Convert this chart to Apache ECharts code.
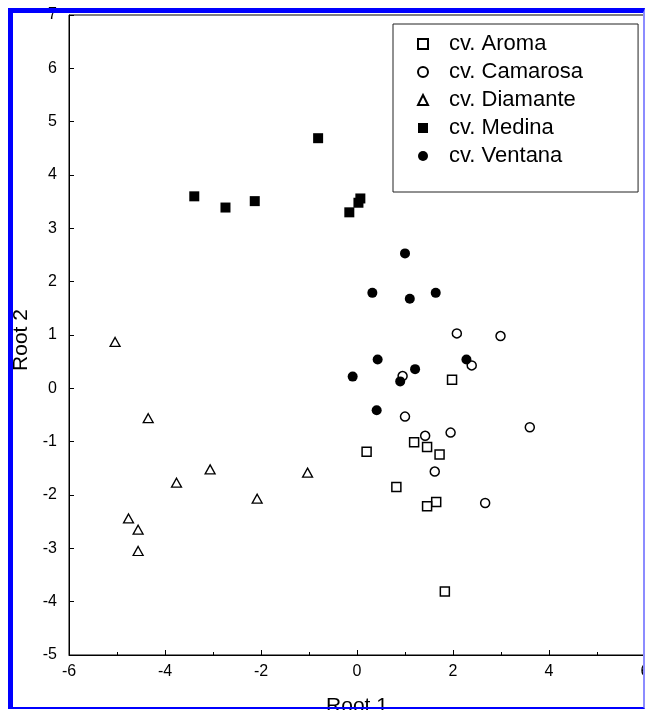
<!DOCTYPE html>
<html>
<head>
<meta charset="utf-8">
<script src="https://cdn.jsdelivr.net/npm/echarts@6/dist/echarts.min.js"></script>
<style>
html, body { margin: 0; padding: 0; background: #fff; }
#wrap { position: relative; width: 645px; height: 710px; overflow: hidden; }
#main { position: absolute; left: 0; top: 0; width: 645px; height: 710px; }
#frame {
    position: absolute; left: 8px; top: 8px; width: 637px; height: 701px;
    box-sizing: border-box; pointer-events: none;
    border-top: 5px solid #0000ff; border-left: 5px solid #0000ff;
    border-right: 2px solid #8c8cff; border-bottom: 2px solid #0000ff;
}
</style>
</head>
<body>
<div id="wrap">
    <div id="main"></div>
    <div id="frame"></div>
</div>
<script>
"use strict";

// [Root 1, Root 2]
var aroma = [[1.98, 0.16], [0.20, -1.19], [1.19, -1.01], [1.46, -1.10], [1.72, -1.24],
    [0.82, -1.85], [1.65, -2.13], [1.46, -2.21], [1.83, -3.81]];
var camarosa = [[2.08, 1.03], [2.99, 0.98], [2.39, 0.43], [0.95, 0.23], [1.00, -0.53],
    [3.60, -0.73], [1.42, -0.89], [1.95, -0.83], [1.62, -1.56], [2.67, -2.15]];
var diamante = [[-5.04, 0.87], [-4.35, -0.56], [-3.76, -1.77], [-3.06, -1.52], [-2.08, -2.07],
    [-1.03, -1.58], [-4.76, -2.44], [-4.56, -2.65], [-4.56, -3.05]];
var medina = [[-3.39, 3.60], [-2.74, 3.39], [-2.13, 3.51], [-0.81, 4.69], [-0.16, 3.30],
    [0.03, 3.48], [0.07, 3.56]];
var ventana = [[1.00, 2.53], [0.32, 1.79], [1.10, 1.68], [1.64, 1.79], [0.43, 0.54],
    [1.21, 0.36], [-0.09, 0.22], [0.90, 0.13], [2.28, 0.54], [0.41, -0.41]];

var seriesNames = ["cv. Aroma", "cv. Camarosa", "cv. Diamante", "cv. Medina", "cv. Ventana"];
var xRange = [-6, 6];
var yRange = [-5, 7];

var font = "Liberation Sans, Arial, sans-serif";

var openStyle = { color: "#fff", borderColor: "#000", borderWidth: 1.5, opacity: 1 };
var filledStyle = { color: "#000", borderColor: "#000", borderWidth: 0, opacity: 1 };

function chart() {
    var myChart = echarts.init(document.getElementById("main"));

    myChart.setOption({
        animation: false,
        textStyle: { fontFamily: font },
        grid: {
            left: 69, right: 0, top: 15, bottom: 55,
            outerBoundsMode: "none",
            containLabel: false,
            show: true, borderColor: "#000", borderWidth: 1
        },
        legend: {
            orient: "vertical",
            left: 393, top: 24,
            padding: [9, 55, 25, 24],
            itemWidth: 10, itemHeight: 10, itemGap: 6,
            borderColor: "#222", borderWidth: 1,
            backgroundColor: "#fff",
            textStyle: { fontSize: 22, color: "#000", fontFamily: font, padding: [0, 0, 0, 16] },
            data: seriesNames
        },
        xAxis: {
            type: "value",
            min: xRange[0], max: xRange[1], interval: 2,
            name: "Root 1", nameLocation: "middle", nameGap: 41,
            nameTextStyle: { fontSize: 21, color: "#000", fontFamily: font },
            axisLine: { onZero: false, lineStyle: { color: "#000", width: 1 } },
            axisTick: { inside: true, length: 5, lineStyle: { color: "#000" } },
            minorTick: { show: true, splitNumber: 2, length: 3, lineStyle: { color: "#000" } },
            splitLine: { show: false },
            axisLabel: { fontSize: 16, color: "#000", margin: 9, fontFamily: font }
        },
        yAxis: {
            type: "value",
            min: yRange[0], max: yRange[1], interval: 1,
            name: "Root 2", nameLocation: "middle", nameRotate: 90, nameGap: 31,
            nameTextStyle: { fontSize: 21, color: "#000", fontFamily: font, padding: [0, 10, 0, 0] },
            axisLine: { onZero: false, lineStyle: { color: "#000", width: 1 } },
            axisTick: { inside: true, length: 5, lineStyle: { color: "#000" } },
            splitLine: { show: false },
            axisLabel: { fontSize: 16, color: "#000", margin: 12, fontFamily: font }
        },
        series: [
            { name: seriesNames[0], type: "scatter", symbol: "rect", symbolSize: 9,
              itemStyle: openStyle, data: aroma },
            { name: seriesNames[1], type: "scatter", symbol: "circle", symbolSize: 9,
              itemStyle: openStyle, data: camarosa },
            { name: seriesNames[2], type: "scatter", symbol: "triangle", symbolSize: [10, 9],
              itemStyle: { color: "#fff", borderColor: "#000", borderWidth: 1.3, opacity: 1 }, data: diamante },
            { name: seriesNames[3], type: "scatter", symbol: "rect", symbolSize: 10,
              itemStyle: filledStyle, data: medina },
            { name: seriesNames[4], type: "scatter", symbol: "circle", symbolSize: 10,
              itemStyle: filledStyle, data: ventana }
        ]
    });
}

chart();
</script>
</body>
</html>
